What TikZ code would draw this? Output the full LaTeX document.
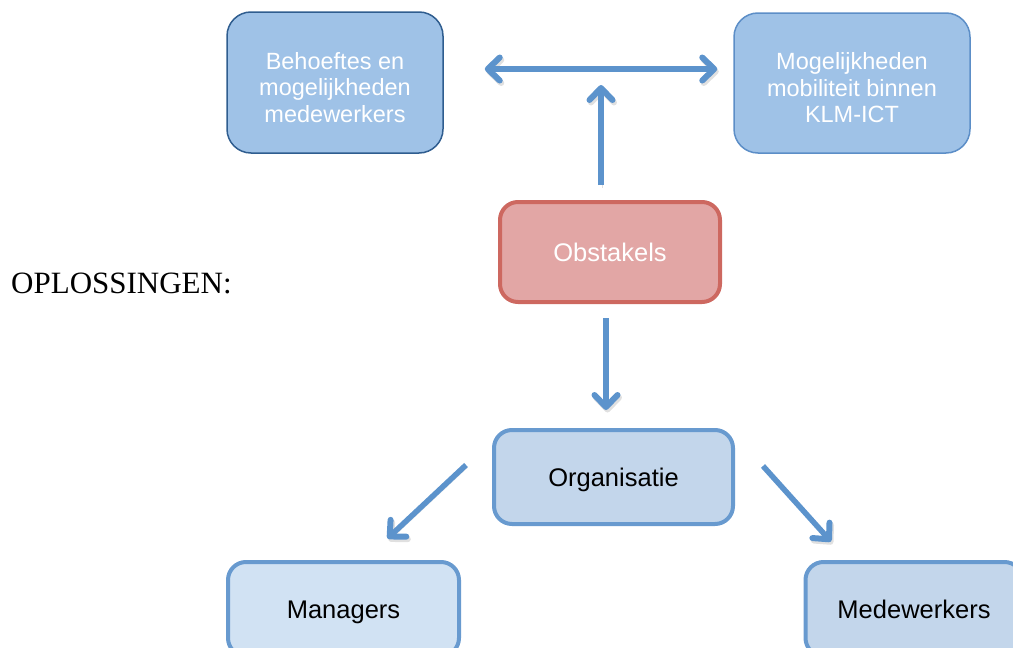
\documentclass[tikz,border=0pt]{standalone}
\usepackage{fontspec}
\setmainfont{Liberation Sans}
\newfontfamily\timesfont{Liberation Serif}
\usetikzlibrary{arrows.meta}
\definecolor{arrowc}{RGB}{92,147,204}
\definecolor{topfill}{RGB}{159,194,231}
\definecolor{topdark}{RGB}{47,93,143}
\definecolor{toplight}{RGB}{92,142,199}
\definecolor{obfill}{RGB}{226,166,165}
\definecolor{obdraw}{RGB}{205,104,96}
\definecolor{orgfill}{RGB}{195,214,235}
\definecolor{orgdraw}{RGB}{104,154,207}
\definecolor{manfill}{RGB}{209,226,243}
\tikzset{
  topbox/.style={draw, line width=1.5pt, fill=topfill, rounded corners=24pt, inner sep=0pt},
  toptext/.style={text=white, align=center, inner sep=0pt, font=\fontsize{23.5}{26.5}\selectfont},
  thickbox/.style={draw=orgdraw, line width=4pt, fill=orgfill, rounded corners=18pt,
    align=center, inner sep=0pt, text height=18.6pt, text depth=0pt, font=\fontsize{25.5}{30}\selectfont},
  tip/.tip={Straight Barb[length=12pt,width=23pt,line width=6pt,round]},
  conn/.style={draw=arrowc, line width=5.5pt, -tip,
    preaction={draw=black, draw opacity=0.12, transform canvas={shift={(1.5pt,-2.5pt)}}}},
}
\begin{document}
\begin{tikzpicture}[x=1pt,y=-1pt]
\useasboundingbox (0,0) rectangle (1013,648);
\clip (0,0) rectangle (1013,648);
\node[topbox, draw=topdark, minimum width=216pt, minimum height=141pt] (b1) at (335,82.5) {};
\node[toptext] (b1t) at ([yshift=-5pt]b1.center) {Behoeftes en\\mogelijkheden\\medewerkers};
\node[topbox, draw=toplight, minimum width=236pt, minimum height=140pt] (b2) at (852,83) {};
\node[toptext] (b2t) at ([yshift=-5pt]b2.center) {Mogelijkheden\\mobiliteit binnen\\KLM-ICT};
\node[thickbox, draw=obdraw, fill=obfill, text=white, minimum width=220pt, minimum height=100pt] (ob) at (610,252) {Obstakels};
\node[thickbox, minimum width=239pt, minimum height=94pt] (org) at (613.5,477) {Organisatie};
\node[thickbox, fill=manfill, minimum width=231pt, minimum height=94pt] (man) at (343.5,609) {Managers};
\node[thickbox, minimum width=217pt, minimum height=94pt] (med) at (914,609) {Medewerkers};
\node[anchor=west, inner sep=0pt, font=\timesfont\fontsize{31}{34}\selectfont] (opl) at (11,283) {OPLOSSINGEN:};
\coordinate (j) at (601,69);
\draw[conn, tip-tip, shorten <=41pt, shorten >=16pt]
  ([yshift=13.5pt]b1.east) -- ([yshift=14pt]b2.west);
\draw[conn, shorten <=15pt, shorten >=16pt] ([xshift=-9pt]ob.north) -- (j);
\draw[conn, shorten <=14pt, shorten >=18pt] ([xshift=-4pt]ob.south) -- ([xshift=-7.5pt]org.north);
\draw[conn] ([xshift=-26pt,yshift=12pt]org.west) -- ([xshift=44pt,yshift=21.5pt]man.north);
\draw[conn] ([xshift=28pt,yshift=11pt]org.east) -- ([xshift=-83pt,yshift=18.5pt]med.north);
\end{tikzpicture}
\end{document}
